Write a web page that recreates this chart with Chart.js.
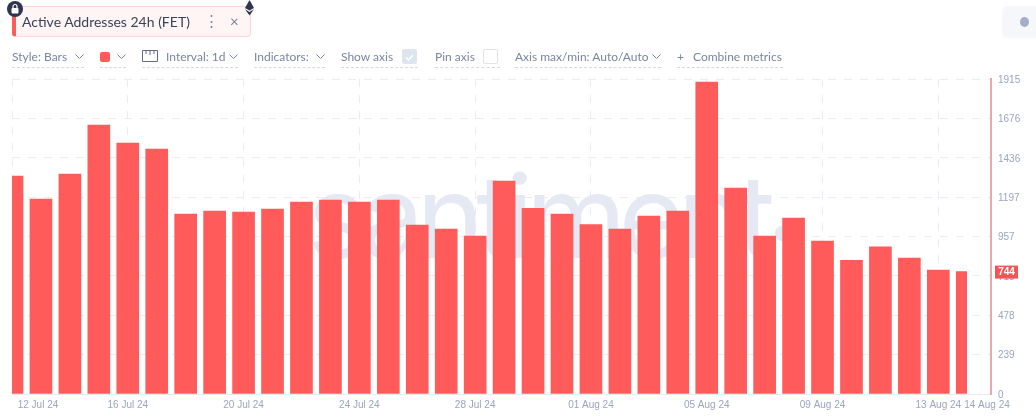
<!DOCTYPE html>
<html>
<head>
<meta charset="utf-8">
<title>Active Addresses 24h (FET)</title>
<script src="https://cdn.jsdelivr.net/npm/chart.js@4"></script>
<style>
  html, body { margin: 0; padding: 0; background: #fff; }
  body { width: 1036px; height: 417px; position: relative; overflow: hidden; font-family: Lato, "Open Sans", sans-serif; }
  #chart { position: absolute; left: 0; top: 0; }
  .chip { position: absolute; left: 12px; top: 6px; width: 239px; height: 31px; box-sizing: border-box; background: #fff5f5; border: 1px solid #fbd5d5; border-left: 4px solid #ff5b5b; border-radius: 4px; }
  .chip span { position: absolute; left: 6px; top: 6px; font-size: 14px; color: #3a4459; white-space: nowrap; }
  .chip b { position: absolute; font-weight: 400; color: #7a859e; }
  .lock { position: absolute; left: 7px; top: 1px; width: 16px; height: 16px; border-radius: 50%; background: #2f354d; }
  .eth { position: absolute; left: 244px; top: 0; }
  .round { position: absolute; left: 1002px; top: 6px; width: 34px; height: 32px; background: #f6f7fb; border-radius: 6px 0 0 6px; }
  .round i { position: absolute; left: 18px; top: 11px; width: 9px; height: 10px; border-radius: 50%; background: #a4aec8; }
  .tool { position: absolute; top: 49px; height: 18px; border-bottom: 1px dashed #d5dae6; font-size: 12px; line-height: 16px; color: #7a859e; white-space: nowrap; }
  .tool svg.chev { position: absolute; right: 0; top: 5px; }
  .box { position: absolute; top: 49px; width: 15px; height: 15px; border-radius: 2px; box-sizing: border-box; }
</style>
</head>
<body>
<canvas id="chart" width="1036" height="417"></canvas>

<div class="chip"><span>Active Addresses 24h (FET)</span><b style="left:188px;top:4px;font-size:15px;">&#8942;</b><b style="left:214px;top:5px;font-size:15px;">&#215;</b></div>
<div class="lock"><svg width="16" height="16" viewBox="0 0 16 16"><rect x="4.5" y="7" width="7" height="5.5" rx="1" fill="#fff"/><path d="M6 7V5.5a2 2 0 0 1 4 0V7" fill="none" stroke="#fff" stroke-width="1.2"/></svg></div>
<svg class="eth" width="11" height="16" viewBox="0 0 11 16"><path d="M5.5 0L10 8 5.5 10.5 1 8z" fill="#2f354d"/><path d="M1 9.2L5.5 12 10 9.2 5.5 15.5z" fill="#2f354d"/></svg>
<div class="round"><i></i></div>

<div class="tool" style="left:12px;width:72px;">Style: Bars<svg class="chev" width="9" height="5" viewBox="0 0 9 5"><path d="M0.5 0.5L4.5 4.5 8.5 0.5" fill="none" stroke="#7a859e"/></svg></div>
<div class="tool" style="left:100px;width:26px;"><span style="position:absolute;left:0;top:3px;width:10px;height:10px;background:#ff5b5b;border-radius:2px;"></span><svg class="chev" width="9" height="5" viewBox="0 0 9 5"><path d="M0.5 0.5L4.5 4.5 8.5 0.5" fill="none" stroke="#7a859e"/></svg></div>
<div class="tool" style="left:142px;width:96px;"><svg style="position:absolute;left:0;top:1px;" width="16" height="12" viewBox="0 0 16 12"><path d="M0.5 0.5H15.5V11.5H0.5zM4 .5V4M8 .5V5M12 .5V4" fill="none" stroke="#5f6a85"/></svg><span style="position:absolute;left:24px;">Interval: 1d</span><svg class="chev" width="9" height="5" viewBox="0 0 9 5"><path d="M0.5 0.5L4.5 4.5 8.5 0.5" fill="none" stroke="#7a859e"/></svg></div>
<div class="tool" style="left:254px;width:71px;">Indicators:<svg class="chev" width="9" height="5" viewBox="0 0 9 5"><path d="M0.5 0.5L4.5 4.5 8.5 0.5" fill="none" stroke="#7a859e"/></svg></div>
<div class="tool" style="left:341px;width:77px;">Show axis</div>
<div class="box" style="left:402px;background:#dfe5f0;"><svg width="15" height="15" viewBox="0 0 15 15"><path d="M4 7.5L6.5 10 11 5" fill="none" stroke="#fff" stroke-width="1.4"/></svg></div>
<div class="tool" style="left:435px;width:65px;">Pin axis</div>
<div class="box" style="left:483px;background:#fff;border:1px solid #dfe3ec;"></div>
<div class="tool" style="left:515px;width:146px;">Axis max/min: Auto/Auto<svg class="chev" width="9" height="5" viewBox="0 0 9 5"><path d="M0.5 0.5L4.5 4.5 8.5 0.5" fill="none" stroke="#7a859e"/></svg></div>
<div class="tool" style="left:677px;width:106px;"><span style="position:absolute;left:0;">+</span><span style="position:absolute;left:16px;">Combine metrics</span></div>

<script>
const dayLabels = ['12 Jul 24','13 Jul 24','14 Jul 24','15 Jul 24','16 Jul 24','17 Jul 24','18 Jul 24','19 Jul 24','20 Jul 24','21 Jul 24','22 Jul 24','23 Jul 24','24 Jul 24','25 Jul 24','26 Jul 24','27 Jul 24','28 Jul 24','29 Jul 24','30 Jul 24','31 Jul 24','01 Aug 24','02 Aug 24','03 Aug 24','04 Aug 24','05 Aug 24','06 Aug 24','07 Aug 24','08 Aug 24','09 Aug 24','10 Aug 24','11 Aug 24','12 Aug 24','13 Aug 24','14 Aug 24'];
const activeAddresses = [1325,1185,1337,1635,1526,1489,1094,1112,1106,1124,1167,1179,1167,1179,1027,1003,960,1295,1128,1094,1030,1003,1082,1112,1897,1252,960,1070,930,812,894,827,754,744];
const yTicks = [0,239,478,718,957,1197,1436,1676,1915];
const xGridDays = [0,4,8,12,16,20,24,28,32];
const xLabelDays = [0,4,8,12,16,20,24,28,32,33];
const lastValue = 744;

const RED = '#ff5b5b';
const GRID = '#e9ecf2';
const TICK = '#9aa5bf';

/* ── santiment watermark behind the bars ── */
const watermark = {
  id: 'watermark',
  beforeDatasetsDraw(chart) {
    const c = chart.ctx;
    c.save();
    c.font = '400 115px Inter, Lato, sans-serif';
    c.letterSpacing = '-8px';
    c.fillStyle = '#e4e9f3';
    c.textAlign = 'left';
    c.textBaseline = 'alphabetic';
    c.fillText('santiment', 307, 258);
    c.fillText('.', 766, 240);
    c.restore();
  }
};

/* ── date labels: first and last get pushed in/out like on the site ── */
const dateLabels = {
  id: 'dateLabels',
  afterDraw(chart) {
    const c = chart.ctx;
    const x = chart.scales.x;
    c.save();
    c.font = '10px "Liberation Sans", sans-serif';
    c.fillStyle = TICK;
    c.textAlign = 'center';
    c.textBaseline = 'middle';
    xLabelDays.forEach(d => {
      let px = x.getPixelForValue(d);
      if (d === 0) px = 38;
      if (d === 33) px = 987;
      c.fillText(dayLabels[d], px, 405.5);
    });
    c.restore();
  }
};

/* ── red tag with the latest value on the axis ── */
const lastValueTag = {
  id: 'lastValueTag',
  afterDraw(chart) {
    const c = chart.ctx;
    const y = chart.scales.y.getPixelForValue(lastValue);
    c.save();
    c.fillStyle = '#f25555';
    c.fillRect(995, y - 6, 23, 13);
    c.font = 'bold 10px "Liberation Sans", sans-serif';
    c.fillStyle = '#fff';
    c.textAlign = 'center';
    c.textBaseline = 'middle';
    c.fillText(String(lastValue), 1006.5, y + 0.5);
    c.restore();
  }
};

new Chart(document.getElementById('chart').getContext('2d'), {
  type: 'bar',
  data: {
    datasets: [{
      label: 'Active Addresses 24h (FET)',
      data: activeAddresses.map((v, i) => ({ x: i, y: v })),
      backgroundColor: RED,
      barThickness: 22,
      clip: { left: 0, top: 0, right: -24, bottom: 0 }
    }]
  },
  options: {
    responsive: false,
    animation: false,
    layout: { padding: { left: 12, top: 79, right: 0, bottom: 0 } },
    plugins: { legend: { display: false }, tooltip: { enabled: false } },
    scales: {
      x: {
        type: 'linear',
        offset: false,
        min: 0,
        max: 33.82,
        afterBuildTicks: axis => { axis.ticks = xGridDays.map(v => ({ value: v })); },
        afterFit: axis => { axis.height = 23; },
        ticks: { display: false },
        grid: { offset: false, color: GRID, drawTicks: false },
        border: { display: true, color: '#e6ebf5', dash: [8, 8] }
      },
      y: {
        position: 'right',
        min: 0,
        max: 1915,
        afterBuildTicks: axis => { axis.ticks = yTicks.map(v => ({ value: v })); },
        afterFit: axis => { axis.width = 45; },
        ticks: {
          color: TICK,
          font: { family: '"Liberation Sans", sans-serif', size: 10 },
          padding: 7,
          labelOffset: 1,
          autoSkip: false,
          callback: v => String(v)
        },
        grid: { color: GRID, drawTicks: false },
        border: { display: true, color: '#e8a9ab', width: 2, dash: [8, 8] }
      }
    }
  },
  plugins: [watermark, dateLabels, lastValueTag]
});
</script>
</body>
</html>
